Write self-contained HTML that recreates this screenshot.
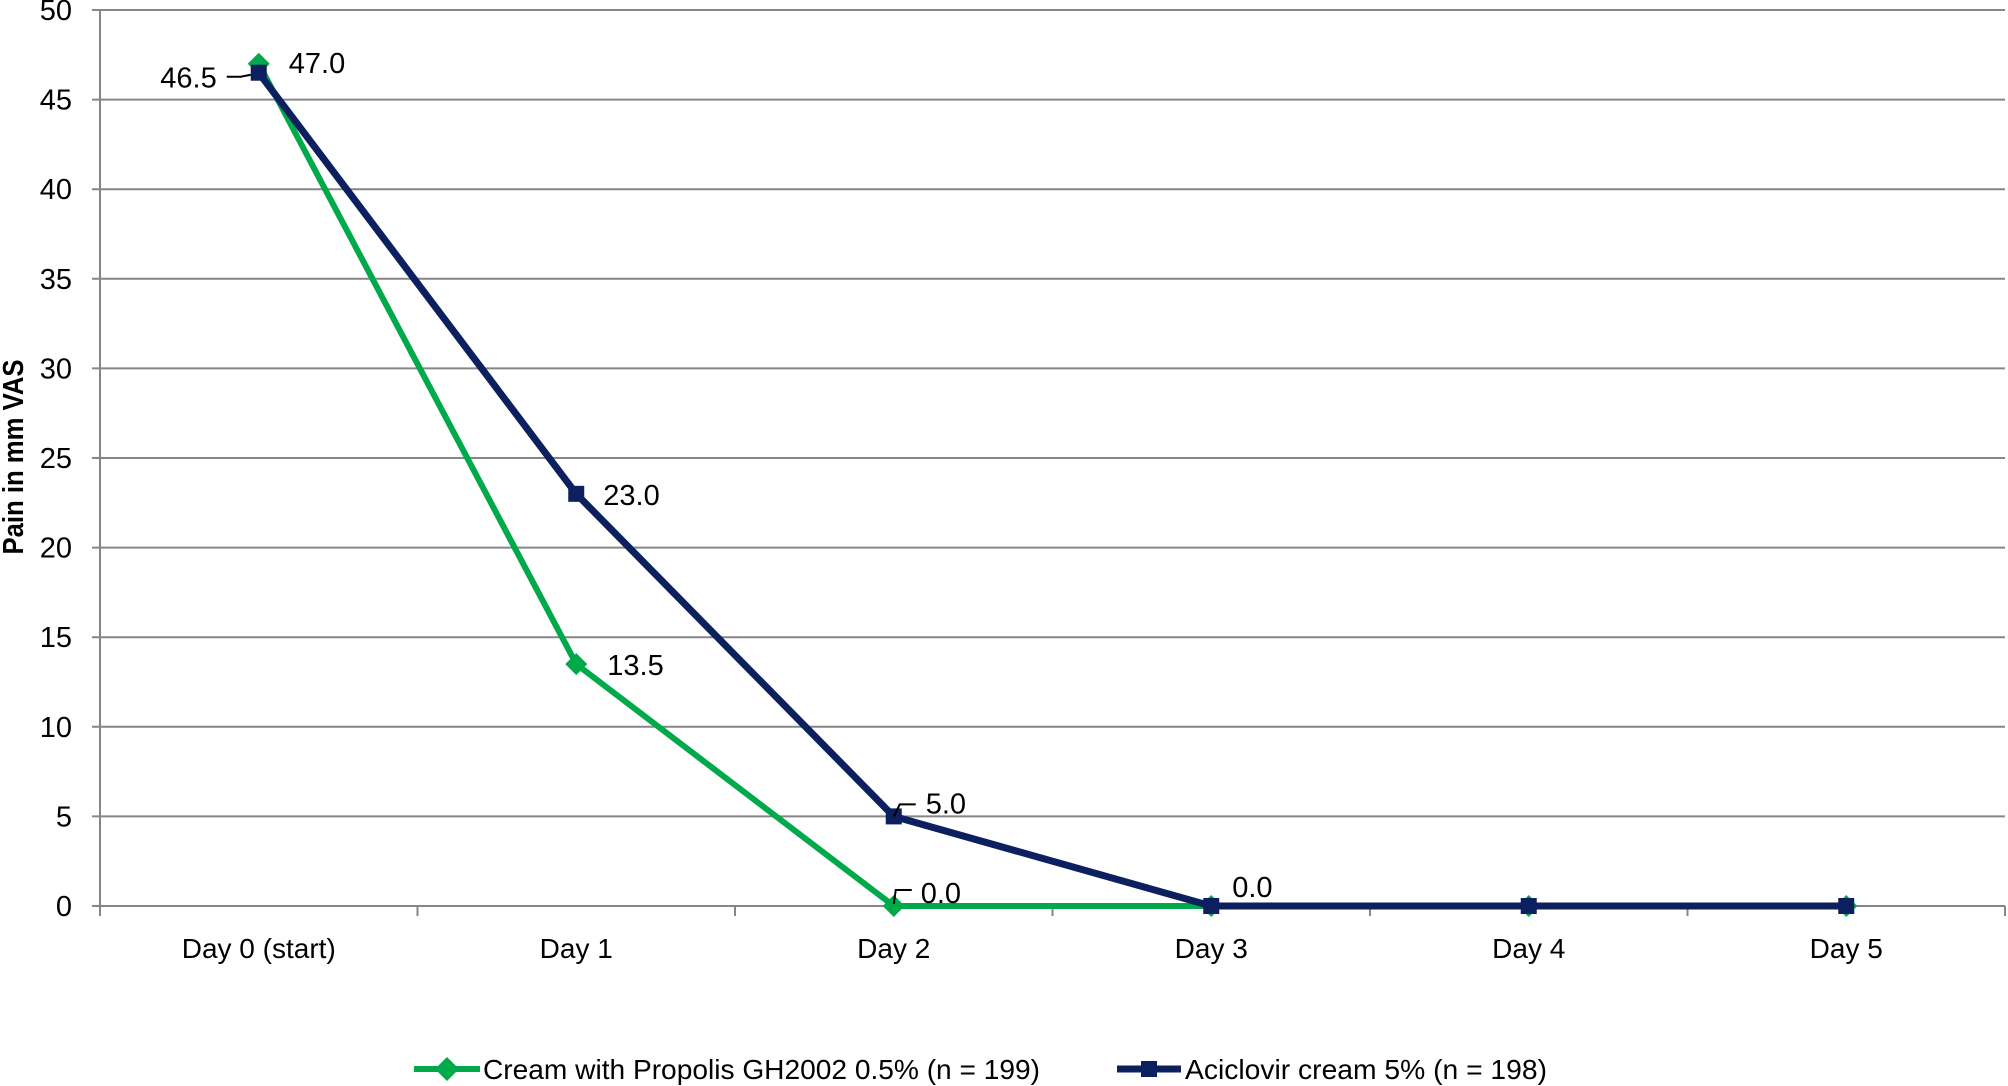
<!DOCTYPE html>
<html><head><meta charset="utf-8"><style>
html,body{margin:0;padding:0;background:#fff}
svg{display:block}
text{font-family:"Liberation Sans",sans-serif;fill:#000}
</style></head><body>
<svg id="chart" width="2008" height="1086" viewBox="0 0 2008 1086" xmlns="http://www.w3.org/2000/svg">
<g id="grid"></g>
<g id="axes"></g>
<g id="series"></g>
<g id="labels"></g>
<text transform="translate(23,457) rotate(-90)" text-anchor="middle" font-size="29" font-weight="bold" textLength="195" lengthAdjust="spacingAndGlyphs">Pain in mm VAS</text>
<g>
<g>
<line x1="414" y1="1069" x2="480" y2="1069" stroke="#00aa4a" stroke-width="6"/>
<polygon points="447,1057 459,1069 447,1081 435,1069" fill="#00aa4a"/>
<text x="483" y="1079" font-size="28" textLength="557" lengthAdjust="spacingAndGlyphs">Cream with Propolis GH2002 0.5% (n = 199)</text>
</g>
<g>
<line x1="1117" y1="1069" x2="1181" y2="1069" stroke="#0c1f5e" stroke-width="7"/>
<rect x="1141" y="1061" width="16" height="16" fill="#0c1f5e"/>
<text x="1185" y="1079" font-size="28" textLength="362" lengthAdjust="spacingAndGlyphs">Aciclovir cream 5% (n = 198)</text>
</g>
</g>
</svg>
<script>
const categories = ["Day 0 (start)","Day 1","Day 2","Day 3","Day 4","Day 5"];
const propolisValues = [47.0, 13.5, 0.0, 0.0, 0.0, 0.0];
const aciclovirValues = [46.5, 23.0, 5.0, 0.0, 0.0, 0.0];
const yTicks = [0,5,10,15,20,25,30,35,40,45,50];

const NS="http://www.w3.org/2000/svg";
const L=100,R=2005,T=10,B=906,YMAX=50;
const band=(R-L)/categories.length;
function x(i){return L+band*(i+0.5);}
function y(v){return B-(B-T)*v/YMAX;}
function mk(tag,attrs,parent){const e=document.createElementNS(NS,tag);for(const k in attrs)e.setAttribute(k,attrs[k]);parent.appendChild(e);return e;}
const grid=document.getElementById('grid'),axes=document.getElementById('axes'),series=document.getElementById('series'),labels=document.getElementById('labels');

yTicks.forEach(v=>{
  const g=mk('line',{x1:L-8,x2:R,y1:y(v),y2:y(v),stroke:'#868686','stroke-width':2},grid);
  
  
  const t=mk('text',{x:72,y:y(v)+10,'text-anchor':'end','font-size':29},axes);
  t.textContent=v;
  
  
});
const ya=mk('line',{x1:L,x2:L,y1:T,y2:B+8,stroke:'#868686','stroke-width':2},axes);


for(let i=0;i<=categories.length;i++){
  const tk=mk('line',{x1:L+band*i,x2:L+band*i,y1:B,y2:B+10,stroke:'#868686','stroke-width':2},axes);
  
  
}
categories.forEach((c,i)=>{
  const t=mk('text',{x:x(i),y:958,'text-anchor':'middle','font-size':28},axes);
  t.textContent=c;
  
  
});

function drawSeries(vals,color,name,marker,w){
  const p=mk('polyline',{points:vals.map((v,i)=>x(i)+','+y(v)).join(' '),fill:'none',stroke:color,'stroke-width':w,'stroke-linejoin':'round'},series);
  
  
  vals.forEach((v,i)=>{
    let m;
    if(marker==='diamond'){const cx=x(i),cy=y(v);m=mk('polygon',{points:`${cx},${cy-11} ${cx+11},${cy} ${cx},${cy+11} ${cx-11},${cy}`,fill:color},series);}
    else m=mk('rect',{x:x(i)-8,y:y(v)-8,width:16,height:16,fill:color},series);
    
    
  });
}
drawSeries(propolisValues,'#00aa4a','propolis','diamond',6);
drawSeries(aciclovirValues,'#0c1f5e','aciclovir','square',7);

function lbl(txt,lx,ly,anchor){
  const t=mk('text',{x:lx,y:ly,'text-anchor':anchor||'start','font-size':29},labels);
  t.textContent=txt;
  
  
}
function leader(d){const p=mk('path',{d:d,fill:'none',stroke:'#000','stroke-width':2},labels);}
lbl(propolisValues[0].toFixed(1),x(0)+30,y(propolisValues[0])+9);
lbl(aciclovirValues[0].toFixed(1),x(0)-42,y(aciclovirValues[0])+15,'end');
leader(`M${x(0)-32},${y(aciclovirValues[0])+4} h14 l10,-2`);
lbl(aciclovirValues[1].toFixed(1),x(1)+27,y(aciclovirValues[1])+11);
lbl(propolisValues[1].toFixed(1),x(1)+31,y(propolisValues[1])+11);
lbl(aciclovirValues[2].toFixed(1),x(2)+32,y(aciclovirValues[2])-3);
leader(`M${x(2)},${y(aciclovirValues[2])} l6,-12 h16`);
lbl(propolisValues[2].toFixed(1),x(2)+27,y(propolisValues[2])-3);
leader(`M${x(2)},${y(propolisValues[2])-2} l2,-14 h16`);
lbl(aciclovirValues[3].toFixed(1),x(3)+21,y(aciclovirValues[3])-9);
</script>
</body></html>
